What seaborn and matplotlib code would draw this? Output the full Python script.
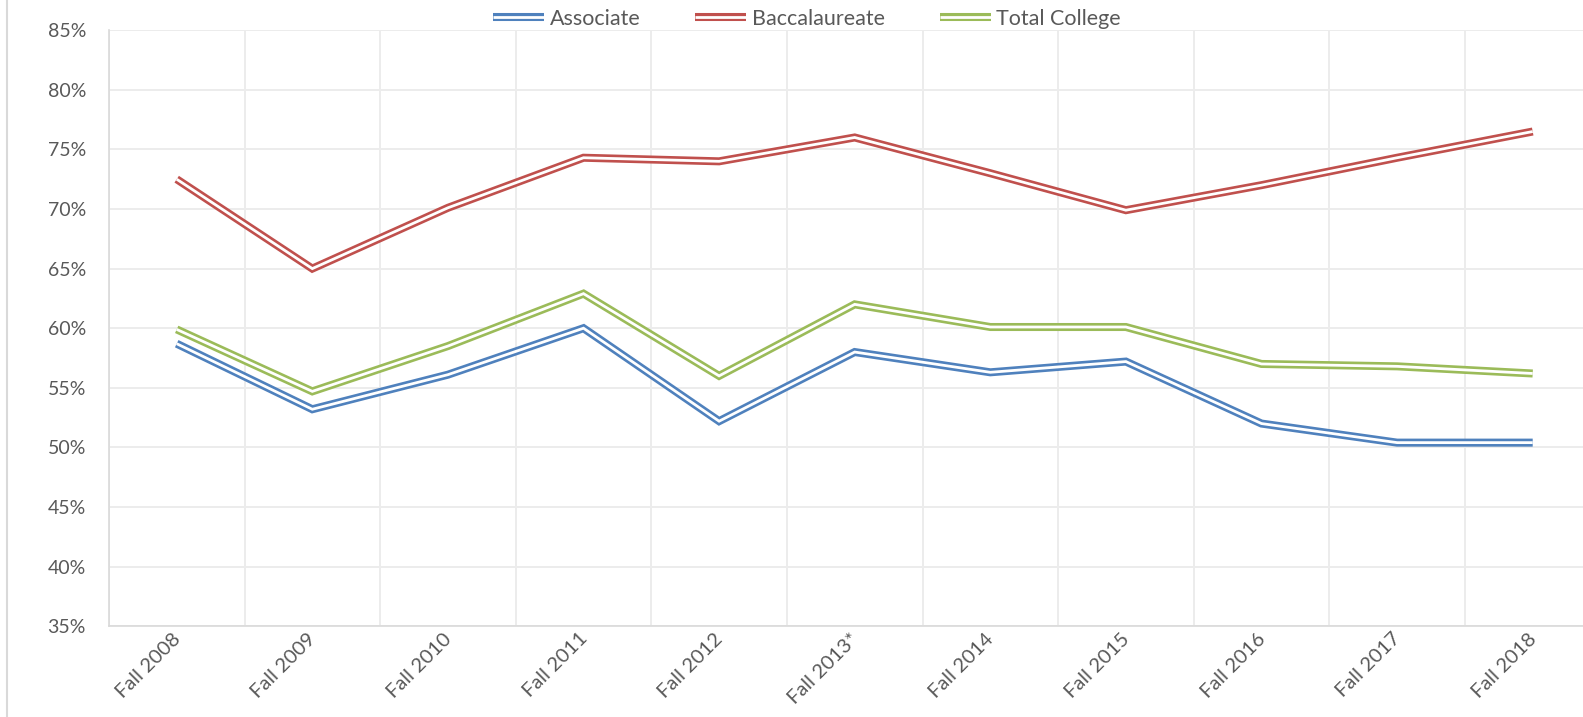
import numpy as np
import pandas as pd
import matplotlib.pyplot as plt
import matplotlib.transforms as mtransforms
from matplotlib.lines import Line2D
from matplotlib.legend_handler import HandlerTuple
import seaborn as sns

# data (percent)
terms = ["Fall 2008", "Fall 2009", "Fall 2010", "Fall 2011", "Fall 2012", "Fall 2013*",
         "Fall 2014", "Fall 2015", "Fall 2016", "Fall 2017", "Fall 2018"]
associate = [58.7, 53.2, 56.1, 60.0, 52.2, 58.0, 56.3, 57.2, 52.0, 50.4, 50.4]
baccalaureate = [72.5, 65.0, 70.1, 74.3, 74.0, 76.0, 73.0, 69.9, 72.0, 74.3, 76.5]
total_college = [59.9, 54.7, 58.5, 62.9, 56.0, 62.0, 60.1, 60.1, 57.0, 56.8, 56.2]
series_names = ["Associate", "Baccalaureate", "Total College"]
colors = ["#4f81bd", "#c0504d", "#9bbb59"]
y_ticks = [35, 40, 45, 50, 55, 60, 65, 70, 75, 80, 85]

df = pd.DataFrame({
    "pos": list(range(len(terms))) * 3,
    "value": associate + baccalaureate + total_college,
    "series": np.repeat(series_names, len(terms)),
})

sns.set_theme(style="white")
plt.rcParams["font.family"] = ["Lato", "DejaVu Sans"]
text_color = "#595959"

fig = plt.figure(figsize=(15.83, 7.17), dpi=100)
# plot area runs a little past the right edge of the picture, as in the original
ax = fig.add_axes([108.9 / 1583, 1 - 626.2 / 717, 1491.6 / 1583, (626.2 - 30.2) / 717])

# Excel-style double lines: thick coloured stroke with a thin white core
outer_lw, inner_lw = 5.8, 2.0
sns.lineplot(data=df, x="pos", y="value", hue="series", palette=colors,
             hue_order=series_names, linewidth=outer_lw, legend=False, ax=ax,
             zorder=3)
sns.lineplot(data=df, x="pos", y="value", units="series", estimator=None,
             color="white", linewidth=inner_lw, legend=False, ax=ax, zorder=4)
for ln in ax.lines:
    ln.set_solid_joinstyle("miter")
    ln.set_solid_capstyle("butt")

ax.set_xlim(-0.5, len(terms) - 0.5)
ax.set_ylim(35, 85)
ax.set_yticks(y_ticks)
ax.set_yticklabels([f"{v}%" for v in y_ticks])
ax.set_xticks(range(len(terms)))
ax.set_xticklabels(terms, rotation=45, ha="right", va="center", rotation_mode="anchor")
ax.set_xticks(np.arange(-0.5, len(terms), 1), minor=True)
ax.set_xlabel("")
ax.set_ylabel("")

ax.grid(False)
ax.yaxis.grid(True, color="#ececec", linewidth=1.4)
ax.xaxis.grid(True, which="minor", color="#ececec", linewidth=1.4)
ax.set_axisbelow(True)

ax.tick_params(axis="y", length=0, pad=16.5, labelsize=14, labelcolor=text_color)
ax.tick_params(axis="x", which="both", length=0, pad=7, labelsize=14.5,
               labelcolor=text_color)
shift = mtransforms.ScaledTranslation(1 / 100, 0, fig.dpi_scale_trans)
for lab in ax.get_xticklabels():
    lab.set_transform(lab.get_transform() + shift)

for side in ["top", "right"]:
    ax.spines[side].set_visible(False)
for side in ["left", "bottom"]:
    ax.spines[side].set_color("#d9d9d9")
    ax.spines[side].set_linewidth(1.2)

# legend with double-line handles
handles = []
for c in colors:
    handles.append((Line2D([], [], color=c, linewidth=outer_lw, solid_capstyle="butt"),
                    Line2D([], [], color="white", linewidth=inner_lw, solid_capstyle="butt")))
fig.legend(handles, series_names, handler_map={tuple: HandlerTuple(ndivide=1)},
           loc="center", bbox_to_anchor=(807 / 1583, 1 - 19 / 717), ncol=3,
           frameon=False, fontsize=15.5, labelcolor=text_color, handlelength=2.37,
           handletextpad=0.26, columnspacing=2.55, borderaxespad=0)

# chart border line on the left
fig.add_artist(Line2D([7 / 1583, 7 / 1583], [0, 1], color="#d9d9d9", linewidth=1.5,
                      transform=fig.transFigure))

fig.savefig("out.png", dpi=100, facecolor="white")
